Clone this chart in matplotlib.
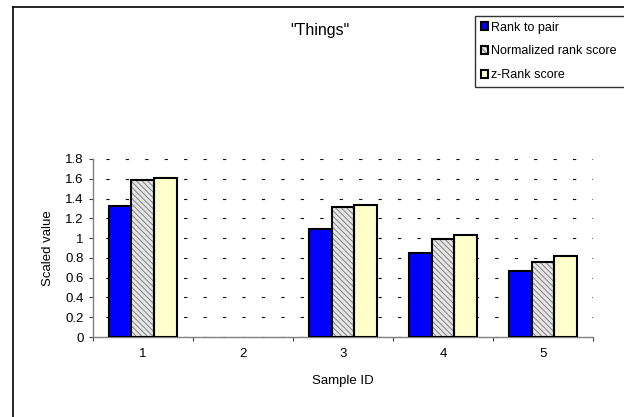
import numpy as np
import matplotlib
matplotlib.use("Agg")
import matplotlib.pyplot as plt
from matplotlib.lines import Line2D
from matplotlib.legend_handler import HandlerTuple

plt.rcParams['font.family'] = ['Liberation Sans', 'DejaVu Sans']

sample_ids = ['1', '2', '3', '4', '5']
rank_to_pair = [1.32, np.nan, 1.09, 0.85, 0.67]
normalized_rank = [1.59, np.nan, 1.31, 0.99, 0.76]
z_rank = [1.61, np.nan, 1.33, 1.03, 0.82]
series_names = ['Rank to pair', 'Normalized rank score', 'z-Rank score']

W, H = 624, 417
fig = plt.figure(figsize=(W / 100, H / 100), dpi=100)
ax = fig.add_axes([92.7 / W, 1 - 337 / H, 500.3 / W, 178 / H])

x = np.arange(1, len(sample_ids) + 1)
bw = 0.225

blue = ax.bar(x - bw, rank_to_pair, bw, color='#0000ff', edgecolor='black',
              linewidth=1.5, zorder=3)
# hatched fill first, then a plain black outline on top
plt.rcParams['hatch.linewidth'] = 0.7
grey_fill = ax.bar(x, normalized_rank, bw, color='#e6e6e6', edgecolor='#808080',
                   hatch='\\\\\\\\\\\\', linewidth=0, zorder=3)
grey_edge = ax.bar(x, normalized_rank, bw, fill=False, edgecolor='black',
                   linewidth=1.5, zorder=4)
yellow = ax.bar(x + bw, z_rank, bw, color='#ffffcc', edgecolor='black',
                linewidth=1.5, zorder=3)

ax.set_xlim(0.5, 5.5)
ax.set_ylim(0, 1.8)
ax.set_yticks(np.arange(0, 1.81, 0.2))
ax.set_yticklabels(['0', '0.2', '0.4', '0.6', '0.8', '1', '1.2', '1.4', '1.6', '1.8'])

# category boundaries get the tick marks, the centres get the labels
ax.set_xticks(np.arange(0.5, 5.6, 1.0))
ax.set_xticklabels([])
ax.set_xticks(x, minor=True)
ax.set_xticklabels(sample_ids, minor=True)
ax.tick_params(axis='x', which='major', length=3, width=0.8, color='#404040',
               direction='out')
ax.tick_params(axis='x', which='minor', length=0, pad=8, labelsize=9.5)
ax.tick_params(axis='y', length=3, width=0.8, color='#404040', pad=3.5,
               labelsize=9.5)

for side in ['top', 'right']:
    ax.spines[side].set_visible(False)
for side in ['left', 'bottom']:
    ax.spines[side].set_color('#808080')
    ax.spines[side].set_linewidth(1)

ax.yaxis.grid(True, color='#101010', linewidth=0.8, linestyle=(6, (3, 14.5)),
              zorder=0)
ax.set_axisbelow(True)

ax.set_xlabel('Sample ID', fontsize=9.5, va='center')
ax.xaxis.set_label_coords(0.5, -44 / 178)
ax.set_ylabel('Scaled value', fontsize=9.5, va='center')
ax.yaxis.set_label_coords(-(92.7 - 48) / 500.3, 0.5)

fig.text(320 / W, 1 - 30 / H, '"Things"', ha='center', va='center', fontsize=11.5)

leg = fig.legend([blue, (grey_fill, grey_edge), yellow], series_names,
                 handler_map={tuple: HandlerTuple(ndivide=1, pad=0)},
                 loc='upper left', mode='expand',
                 bbox_to_anchor=(475 / W, 1 - 86 / H, 160 / W, 70 / H),
                 fontsize=9, handlelength=0.6, handleheight=0.6,
                 handletextpad=0.25, labelspacing=0.95, borderpad=0.45,
                 borderaxespad=0, fancybox=False, frameon=True)
leg.get_frame().set_edgecolor('black')
leg.get_frame().set_linewidth(1)

# outer chart border (only left and top edges fall inside the image)
fig.add_artist(Line2D([13 / W, 13 / W], [0, 1 - 7 / H], color='black',
                      linewidth=1.2, transform=fig.transFigure))
fig.add_artist(Line2D([13 / W, 1], [1 - 7 / H, 1 - 7 / H], color='black',
                      linewidth=1.2, transform=fig.transFigure))

fig.savefig('out.png', dpi=100)
